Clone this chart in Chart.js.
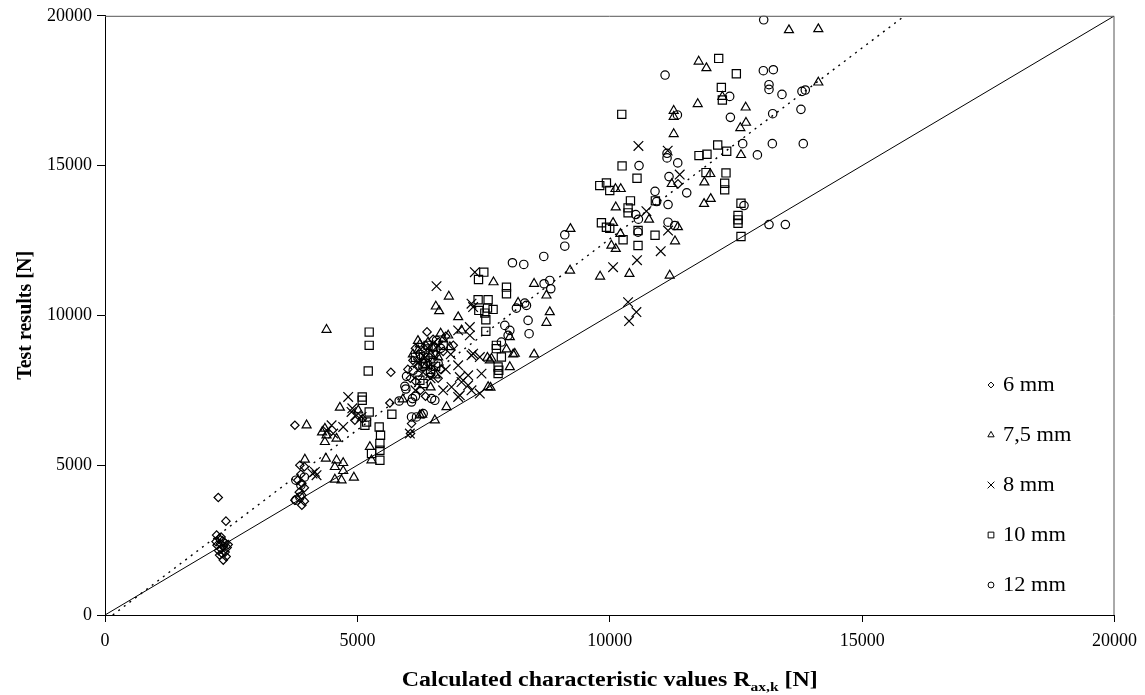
<!DOCTYPE html>
<html><head><meta charset="utf-8">
<script src="https://cdn.jsdelivr.net/npm/chart.js@4.4.0/dist/chart.umd.min.js"></script>
<style>html,body{margin:0;padding:0;background:#fff;}canvas{display:block;}</style>
</head><body>
<canvas id="c" width="1145" height="695"></canvas>
<script>
const axisTicks = [0, 5000, 10000, 15000, 20000];
const seriesNames = ['6 mm', '7,5 mm', '8 mm', '10 mm', '12 mm'];
const xTitle = ['Calculated characteristic values R', 'ax,k', ' [N]'];
const yTitle = 'Test results [N]';

// 6 mm (diamonds)
const s6 = [[2244,3923],[2396,3133],[2211,2667],[2260,2550],[2330,2480],[2380,2400],[2290,2380],[2220,2330],[2350,2300],[2420,2250],[2300,2200],[2250,2150],[2380,2100],[2320,2050],[2270,2000],[2400,1950],[2343,1833],[2300,2600],[2440,2350],[2200,2450],
[3762,6333],[3861,5000],[3950,4950],[3820,4500],[3900,4400],[3950,4250],[3850,4100],[3900,4000],[3762,3833],[3900,3667],[3950,3800],[3880,4700],
[4950,6500],[5100,6550],[5644,7077],[5663,8100],[6073,6390],[6053,6057],[6380,9450],
[6150,7800],[6200,8300],[6100,8500],[6250,8600],[6300,8800],[6350,9000],[6400,8400],[6450,8000],[6500,9200],[6550,8700],[6600,9100],[6700,8800],[6250,7500],[6350,7300],[6900,9000],[6650,8200],
[6000,8200],[6150,8900],[6600,7900],[6750,9300],[6050,7900],[11352,14390]];

// 7,5 mm (triangles)
const s75 = [[3994,6333],[4356,6223],[4389,6000],[4356,5777],[4587,5890],[4300,6100],[3960,5190],[4376,5223],[4587,5167],[4719,5077],[4554,4943],[4719,4810],[4554,4523],[4686,4500],[4931,4590],[4653,6923],[5017,6833],[4389,9523],[5248,5610],[5280,5167],[6238,6667],[6284,6690],[6238,9033],[6205,8833],[6400,9100],[6500,8900],[6300,8500],[6600,8600],[6700,9200],[6450,8700],
[6100,8700],[6350,8300],[6550,8000],[6200,9150],[6650,9400],[5900,7200],[6450,7600],
[6812,10633],[6554,10300],[6620,10143],[6799,9333],[6832,8943],[6766,6943],[6535,6500],[6997,9943],[7063,9500],[7697,11110],[7577,8590],[7657,8557],[7591,7610],[7637,7590],[7624,8500],[8020,9277],[7954,8867],[8119,8723],[8020,8277],[8086,8700],[8184,10423],[8501,8700],[8501,11057],[8746,10667],[8812,10110],[8746,9757],
[9214,11500],[9809,11300],[10390,11390],[9221,12890],[11188,11333],[10113,14223],[10218,14223],[10119,13610],[10778,13200],[10066,13090],[10033,12333],[10119,12223],[10211,12723],[11293,12477],[11350,12950],[11228,14390],[11992,14723],[11874,14443],[12000,13890],[11868,13723],[12600,15357],[12587,16257],[12699,16433],[12693,16943],[11743,17057],[11267,16833],[11267,16633],[11267,16057],[11762,18477],[11915,18256],[13550,19523],[14132,19556],[14132,17777],[12231,17300]];

// 8 mm (crosses)
const s8 = [[4111,4723],[4158,4777],[4191,4667],[4489,6333],[4521,6057],[4719,6277],[4400,6150],[4818,7277],[4884,6777],[4983,6667],[5083,6610],[4900,6900],[6040,6057],[6568,10977],[7327,11443],
[7228,9610],[7293,8723],[7459,8057],[7195,8000],[6997,8333],[7030,7943],[7063,7777],[7261,7500],[7426,7390],[6997,7277],[6700,7500],[6865,7610],[7261,10390],[7293,10277],[6997,9500],[7228,9333],[7261,8667],[7426,8610],[7195,7667],[7030,7333],
[6300,8100],[6400,8900],[6500,8300],[6600,9000],[6200,8400],[6350,8600],[6450,7900],[6750,8200],[6850,8700],[6150,7500],
[10363,10443],[10528,10110],[10383,9810],[10066,11610],[10540,11843],[11010,12143],[11155,12833],[10726,13477],[11386,14700],[11148,15500],[10568,15657]];

// 10 mm (squares)
const s10 = [[5149,6333],[5432,6277],[5459,6000],[5446,5723],[5446,5500],[5446,5167],[5280,5390],[5234,9443],[5234,9000],[5215,8143],[5096,7277],[5096,7167],[5234,6777],[5182,6443],[5683,6700],
[6238,7833],[6304,7723],[6350,8400],[6450,8200],[6500,8700],[6400,9000],[6150,8600],[6550,8300],[6700,9000],
[7392,10523],[7590,10523],[7406,10167],[7578,10243],[7689,10200],[7525,10077],[7545,9857],[7545,9467],[7400,11200],[7505,11443],
[7954,10943],[7954,10723],[7754,9000],[7754,8890],[7853,8610],[7788,8277],[7802,8167],[7788,8057],
[9802,14333],[9934,14423],[10000,14167],[9835,13090],[9934,12943],[10000,12910],[10410,13823],[10363,13590],[10363,13423],[10540,14577],[10244,14990],[10238,16710],[10904,13823],[10897,12677],[10560,12333],[10561,12833],[10264,12523],[11907,14767],[12303,14757],[12277,14410],[12277,14190],[12600,13743],[12541,13333],[12541,13190],[12541,13077],[12600,12633],[11768,15333],[11926,15377],[12139,15690],[12317,15477],[12158,18578],[12508,18067],[12211,17610],[12231,17190]];

// 12 mm (circles)
const s12 = [[3782,4500],[3881,4333],[3861,3933],[3782,3833],[3950,4600],
[5974,7967],[6106,8167],[5941,7633],[5960,7543],[6092,7223],[6073,7110],[5828,7143],[6073,6610],[6172,6610],[6304,6723],[6300,8300],[6400,8600],[6568,9167],[6502,8943],[6200,8000],[6600,8400],[6535,7167],[6469,7223],[6250,8700],[6450,8100],[6150,7300],[6650,8900],
[7921,9667],[8020,9500],[7987,9333],[7853,9110],[8151,10243],[8316,10410],[8350,10333],[8382,9833],[8402,9390],
[8699,11057],[8812,11167],[8832,10890],[8693,11967],[8072,11757],[8297,11700],[9109,12690],[9109,12310],
[10897,14143],[10930,13800],[11155,13700],[10515,13367],[10568,13210],[11155,13110],[11287,13000],[11525,14090],[11174,14633],[10580,15000],[11135,15257],[11135,15410],[11347,15090],[11340,16690],[11096,18023],[12660,13667],[13155,13033],[13479,13033],[12634,15733],[12925,15357],[13221,15733],[13834,15733],[12390,16610],[13228,16733],[13788,16877],[12376,17310],[13412,17377],[13155,17700],[13155,17543],[13043,18167],[13241,18200],[13808,17477],[13874,17523],[13050,19867],[10561,12780]];

const lineEqual = [[0,0],[20000,20000]];
const lineFit = [[153,0],[15842,20000]];

const seriesData = [s6, s75, s8, s10, s12];
const markers = [
  {ps:'rectRot', r:4.2},
  {ps:'triangle', r:5.2},
  {ps:'crossRot', r:6.8},
  {ps:'rect', r:5.8},
  {ps:'circle', r:4.2}
];
const toXY = a => a.map(p => ({x:p[0], y:p[1]}));
const FONT = '"Liberation Serif", "Times New Roman", serif';

const datasets = seriesData.map((d,i) => ({
  label: seriesNames[i],
  data: toXY(d),
  pointStyle: markers[i].ps,
  pointRadius: markers[i].r,
  pointBorderColor: '#000',
  pointBackgroundColor: 'rgba(0,0,0,0)',
  pointBorderWidth: 1.2,
  showLine: false
}));
datasets.push({label:'eq', data: toXY(lineEqual), showLine:true, borderColor:'#000', borderWidth:1, pointRadius:0, fill:false});
datasets.push({label:'fit', data: toXY(lineFit), showLine:true, borderColor:'#000', borderWidth:1.4, borderDash:[2,5], pointRadius:0, fill:false});

const decor = {
  id: 'decor',
  afterDraw(chart) {
    const {ctx, chartArea: a} = chart;
    ctx.save();
    ctx.strokeStyle = '#555';
    ctx.lineWidth = 1;
    ctx.beginPath();
    ctx.moveTo(a.left, a.top + 0.5); ctx.lineTo(a.right - 0.5, a.top + 0.5); ctx.lineTo(a.right - 0.5, a.bottom);
    ctx.stroke();
    // legend
    const ly0 = 385, lstep = 50, lx = 991;
    ctx.textBaseline = 'middle';
    ctx.textAlign = 'left';
    for (let i = 0; i < seriesNames.length; i++) {
      const y = ly0 + i * lstep;
      ctx.strokeStyle = '#000'; ctx.fillStyle = 'rgba(0,0,0,0)'; ctx.lineWidth = 1;
      Chart.helpers.drawPoint(ctx, {pointStyle: markers[i].ps, radius: markers[i].r * 0.7, borderWidth: 1, rotation: 0}, lx, y);
      ctx.fillStyle = '#000';
      ctx.save();
      ctx.translate(lx + 12, y + 1);
      ctx.scale(1.12, 1);
      ctx.font = '20px ' + FONT;
      ctx.fillText(seriesNames[i], 0, 0);
      ctx.restore();
    }
    // x title with subscript (slightly widened like the original)
    const fMain = 'bold 20px ' + FONT, fSub = 'bold 13px ' + FONT;
    ctx.font = fMain; const w1 = ctx.measureText(xTitle[0]).width, w3 = ctx.measureText(xTitle[2]).width;
    ctx.font = fSub; const w2 = ctx.measureText(xTitle[1]).width;
    const total = w1 + w2 + w3;
    const sx = 416 / total;
    const by = 686;
    ctx.save();
    ctx.translate((a.left + a.right) / 2 - 208, by);
    ctx.scale(sx, 1);
    ctx.textBaseline = 'alphabetic';
    ctx.fillStyle = '#000';
    let x = 0;
    ctx.font = fMain; ctx.fillText(xTitle[0], x, 0); x += w1;
    ctx.font = fSub; ctx.fillText(xTitle[1], x, 5); x += w2;
    ctx.font = fMain; ctx.fillText(xTitle[2], x, 0);
    ctx.restore();
    ctx.restore();
  }
};

new Chart(document.getElementById('c'), {
  type: 'scatter',
  data: {datasets},
  plugins: [decor],
  options: {
    responsive: false,
    animation: false,
    layout: {padding: {top: 15, right: 30, left: 0, bottom: 0}},
    plugins: {legend: {display: false}, tooltip: {enabled: false}},
    scales: {
      x: {
        type: 'linear', min: axisTicks[0], max: axisTicks[axisTicks.length-1],
        afterBuildTicks: s => { s.ticks = axisTicks.map(v => ({value: v})); },
        afterFit: s => { s.height = 80; },
        ticks: {color: '#000', font: {family: FONT, size: 18}, padding: 8, maxRotation: 0, callback: v => String(v)},
        grid: {display: true, drawOnChartArea: false, drawTicks: true, tickLength: 7, color: '#000'},
        border: {display: true, color: '#000', width: 1}
      },
      y: {
        type: 'linear', min: axisTicks[0], max: axisTicks[axisTicks.length-1],
        afterBuildTicks: s => { s.ticks = axisTicks.map(v => ({value: v})); },
        afterFit: s => { s.width = 105; },
        ticks: {color: '#000', font: {family: FONT, size: 18}, padding: 5, callback: v => String(v)},
        grid: {display: true, drawOnChartArea: false, drawTicks: true, tickLength: 8, color: '#000'},
        border: {display: true, color: '#000', width: 1},
        title: {display: true, text: yTitle, color: '#000', font: {family: FONT, size: 20, weight: 'bold'}, padding: {top: 14, bottom: 0}}
      }
    }
  }
});
</script>
</body></html>
